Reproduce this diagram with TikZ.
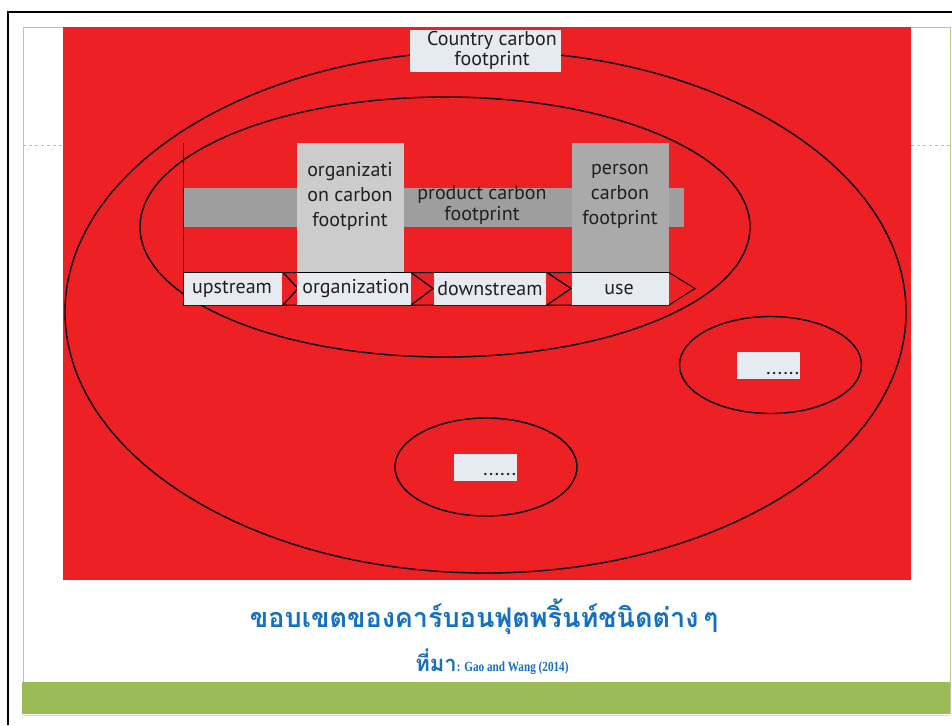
\documentclass[tikz,border=0pt]{standalone}
\usepackage{fontspec}
\setmainfont{PT Sans}
\newfontfamily\thaifont[Script=Thai]{Loma}
\newfontfamily\srcfont[FakeStretch=0.8]{Liberation Serif}
\usetikzlibrary{shapes.geometric}
\definecolor{bgred}{RGB}{237,32,36}
\definecolor{frgreen}{RGB}{155,187,89}
\definecolor{lightfr}{RGB}{180,204,140}
\definecolor{boxwhite}{RGB}{230,234,241}
\definecolor{orggray}{RGB}{204,204,204}
\definecolor{bandgray}{RGB}{158,158,158}
\definecolor{pergray}{RGB}{170,170,170}
\definecolor{titleblue}{RGB}{21,112,192}
\definecolor{txt}{RGB}{35,31,32}
\tikzset{
  ring/.style={ellipse, draw=black, line width=1.4pt, inner sep=0pt},
  graybox/.style={inner sep=0pt, draw=none},
  whitebox/.style={fill=boxwhite, inner sep=0pt},
  lbl/.style={text=txt, font=\fontsize{20}{25}\selectfont, align=center, inner sep=0pt},
  chev/.style={draw=black, line width=1pt, line join=miter},
  dots/.style={text=txt, font=\bfseries\fontsize{15}{16}\selectfont\addfontfeature{LetterSpace=12}, inner sep=0pt}
}
\begin{document}
\begin{tikzpicture}[x=1pt,y=-1pt]
\useasboundingbox (0,0) rectangle (952,725);
\fill[white] (0,0) rectangle (952,725);
% slide frames
\draw[black, line width=2pt] (8,725) -- (8,12.5) -- (952,12.5);
\draw[lightfr, line width=1pt] (23,714) -- (23,27.5) -- (950,27.5) -- (950,714);
\draw[lightfr, line width=0.8pt, dashed] (23,145) -- (63,145);
\draw[lightfr, line width=0.8pt, dashed] (911,145) -- (950,145);
\fill[frgreen] (22,682) rectangle (950,714);
\draw[lightfr!60!white, line width=1pt] (22,715) -- (950,715);
% red picture
\fill[bgred] (63,27.5) rectangle (911,580);
% ellipses
\node[ring, minimum width=841pt, minimum height=522pt] (country) at (485.5,312) {};
\node[ring, minimum width=610pt, minimum height=260pt] (product) at (445,227) {};
\node[ring, minimum width=182pt, minimum height=97pt] (other1) at (770.5,365) {};
\node[ring, minimum width=182pt, minimum height=98pt] (other2) at (486,467) {};
% country label
\node[whitebox, minimum width=151pt, minimum height=42pt] (cbox) at (485.5,51) {};
\node[lbl, font=\fontsize{20}{20}\selectfont] (ctxt) at (492,50) {Country carbon\\footprint};
% vertical axis line
\coordinate (vtop) at (183.5,143);
\coordinate (vbot) at (183.5,273);
\draw[black, line width=1pt] (vtop) -- (vbot);
% band
\node[graybox, fill=bandgray, minimum width=500pt, minimum height=39pt] (band) at (434,207.5) {};
\node[graybox, fill=orggray, minimum width=107pt, minimum height=130pt] (orgbox) at (350.5,208) {};
\node[graybox, fill=pergray, minimum width=97pt, minimum height=130pt] (perbox) at (620.5,208) {};
\node[lbl] (orgtxt) at (350,196) {organizati\\on carbon\\footprint};
\node[lbl, font=\fontsize{20}{21}\selectfont] (prodtxt) at (482,205) {product carbon\\footprint};
\node[lbl] (pertxt) at (620,196) {person\\carbon\\footprint};
% chevrons
\draw[chev] (183.5,272.5) -- (283,272.5) -- (298,288.5) -- (283,305) -- (183.5,305) -- cycle;
\draw[chev] (283,272.5) -- (411,272.5) -- (433,288.5) -- (411,305) -- (283,305) -- (298,288.5) -- cycle;
\draw[chev] (411,272.5) -- (547,272.5) -- (571,288.5) -- (547,305) -- (411,305) -- (433,288.5) -- cycle;
\draw[chev] (547,272.5) -- (669,272.5) -- (695,288.5) -- (669,305) -- (547,305) -- (571,288.5) -- cycle;
% stage boxes
\node[whitebox, minimum width=98pt, minimum height=31.5pt] (up) at (233,288.75) {};
\node[whitebox, minimum width=114pt, minimum height=31.5pt] (org) at (354,288.75) {};
\node[whitebox, minimum width=112pt, minimum height=31.5pt] (down) at (490,288.75) {};
\node[whitebox, minimum width=97pt, minimum height=31.5pt] (use) at (620.5,288.75) {};
\node[lbl] (uptxt) at (232,289) {upstream};
\node[lbl] (orgstxt) at (356,289) {organization};
\node[lbl] (downtxt) at (490,289) {downstream};
\node[lbl] (usetxt) at (619,289) {use};
% other boxes
\node[whitebox, minimum width=63pt, minimum height=27pt] (ob1) at (768.5,365.5) {};
\node[dots, anchor=base east] (ob1t) at (799,374) {......};
\node[whitebox, minimum width=63pt, minimum height=27pt] (ob2) at (485,467.5) {};
\node[dots, anchor=base east] (ob2t) at (516,475) {......};
% caption
\node[text=titleblue, inner sep=0pt] (title) at (484,617) {\thaifont\bfseries\fontsize{27}{30}\selectfont ขอบเขตของคาร์บอนฟุตพริ้นท์ชนิดต่าง\hspace{5pt}ๆ};
\node[text=titleblue, inner sep=0pt] (src) at (492,662) {{\thaifont\bfseries\fontsize{22}{24}\selectfont ที่มา}{\srcfont\bfseries\fontsize{14}{16}\selectfont: Gao and Wang (2014)}};
\end{tikzpicture}
\end{document}
